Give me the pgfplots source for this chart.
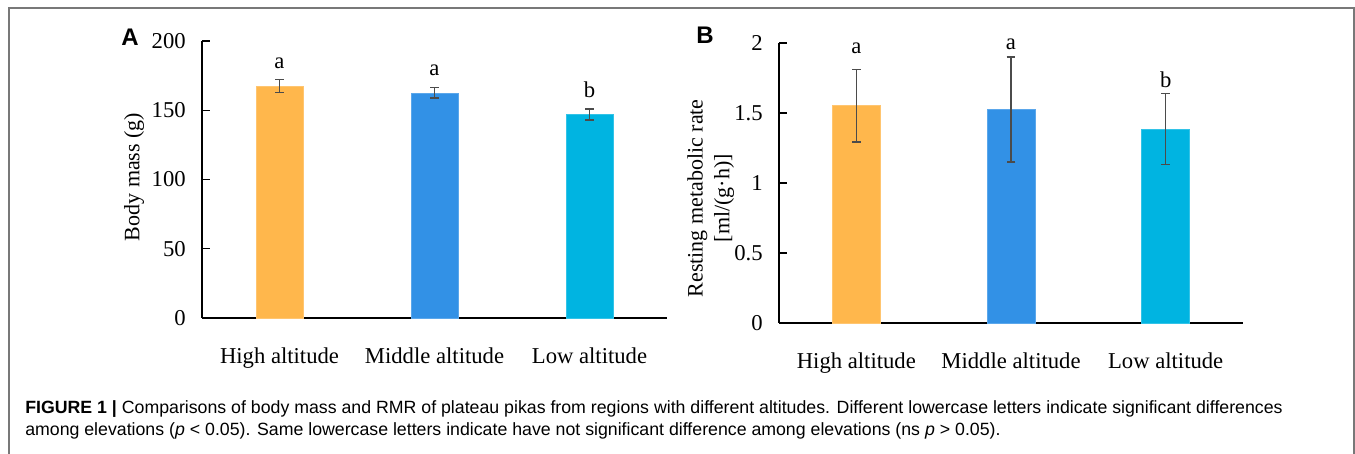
\documentclass[border=0pt]{standalone}
\usepackage{pgfplots}
\pgfplotsset{compat=1.18}
\usepackage{fontspec}
\setmainfont{Liberation Serif}
\newfontfamily\capfont{Liberation Sans}
\definecolor{barO}{RGB}{255,183,76}
\definecolor{barB}{RGB}{50,145,230}
\definecolor{barC}{RGB}{0,180,225}
\definecolor{errc}{RGB}{75,75,75}
\definecolor{framec}{RGB}{120,120,120}
\pgfplotsset{
  myax/.style={
    scale only axis, anchor=south west,
    axis x line*=bottom, axis y line*=left,
    axis line style={black, line width=1.1pt},
    tick align=inside, major tick length=6pt,
    ytick style={black, line width=1.1pt},
    xtick style={draw=none},
    xmin=-0.5, xmax=2.5, ymin=0,
    xtick={0,1,2},
    xticklabels={High altitude, Middle altitude, Low altitude},
    ybar, bar shift=0pt,
    /pgf/number format/assume math mode=true,
    yticklabel style={anchor=east, inner sep=0pt, xshift=-12pt},
    xticklabel style={anchor=north, inner sep=0pt, yshift=-16.5pt},
    tick label style={font=\fontsize{17}{20}\selectfont},
    clip=false,
    error bars/y dir=both, error bars/y explicit,
    error bars/error bar style={errc, line width=1pt},
    error bars/error mark options={rotate=90, mark size=3.2pt, errc, line width=1pt},
  }
}
\begin{document}
\begin{tikzpicture}
\useasboundingbox (0,0) rectangle (1016.25pt,339.75pt);
\draw[framec, line width=1.5pt] (6.75pt,-2pt) -- (6.75pt,333.75pt) -- (1015.5pt,333.75pt) -- (1015.5pt,-2pt);

% Panel A
\begin{axis}[myax, at={(151.5pt,101.25pt)}, width=348.75pt, height=207.75pt,
  ymax=200, ytick={0,50,100,150,200}, bar width=35.5pt]
\addplot[fill=barO, draw=barO!80!white] coordinates {(0,167.5) +- (0,4.5)};
\addplot[fill=barB, draw=barB!80!white] coordinates {(1,162.5) +- (0,3.7)};
\addplot[fill=barC, draw=barC!80!white] coordinates {(2,147) +- (0,4)};
\node[font=\fontsize{17}{20}\selectfont] at (axis cs:0,184) {a};
\node[font=\fontsize{17}{20}\selectfont] at (axis cs:1,179) {a};
\node[font=\fontsize{17}{20}\selectfont] at (axis cs:2,165) {b};
\end{axis}

% Panel B
\begin{axis}[myax, at={(584.25pt,97.5pt)}, width=348pt, height=210pt,
  ymax=2, ytick={0,0.5,1,1.5,2}, bar width=36pt]
\addplot[fill=barO, draw=barO!80!white] coordinates {(0,1.553) +- (0,0.26)};
\addplot[fill=barB, draw=barB!80!white] coordinates {(1,1.525) +- (0,0.375)};
\addplot[fill=barC, draw=barC!80!white] coordinates {(2,1.387) +- (0,0.253)};
\node[font=\fontsize{17}{20}\selectfont] at (axis cs:0,1.96) {a};
\node[font=\fontsize{17}{20}\selectfont] at (axis cs:1,1.99) {a};
\node[font=\fontsize{17}{20}\selectfont] at (axis cs:2,1.74) {b};
\end{axis}

% Axis titles and panel letters
\node[rotate=90, font=\fontsize{16.5}{19}\selectfont] at (100.5pt,207pt) {Body mass (g)};
\node[rotate=90, align=center, font=\fontsize{16.5}{20}\selectfont] at (533pt,191pt) {Resting metabolic rate\\{[}ml/(g·h)]};
\node[font=\capfont\bfseries\fontsize{18}{20}\selectfont] at (97.5pt,312pt) {A};
\node[font=\capfont\bfseries\fontsize{18}{20}\selectfont] at (528.75pt,313.5pt) {B};

% Caption
\node[anchor=base west, inner sep=0pt, font=\capfont\fontsize{13.3}{15}\selectfont] at (18.75pt,30pt)
  {\textbf{FIGURE 1 |} Comparisons of body mass and RMR of plateau pikas from regions with different altitudes. Different lowercase letters indicate significant differences};
\node[anchor=base west, inner sep=0pt, font=\capfont\fontsize{13.3}{15}\selectfont] at (18.75pt,13pt)
  {among elevations (\textit{p} < 0.05). Same lowercase letters indicate have not significant difference among elevations (ns \textit{p} > 0.05).};
\end{tikzpicture}
\end{document}
